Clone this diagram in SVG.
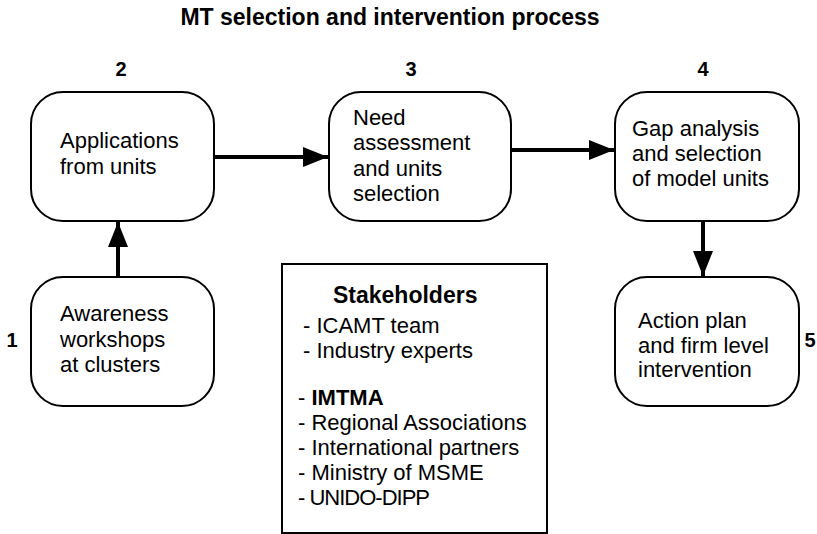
<svg xmlns="http://www.w3.org/2000/svg" width="817" height="534" viewBox="0 0 817 534">
  <style>
    text { font-family: "Liberation Sans", Arial, sans-serif; fill: #000; }
    .title { font-size: 23px; font-weight: bold; }
    .num { font-size: 20px; font-weight: bold; text-anchor: middle; }
    .lbl { font-size: 22px; }
    .head { font-size: 23px; font-weight: bold; }
    .step { fill: #fff; stroke: #000; stroke-width: 2; }
    .conn { stroke: #000; stroke-width: 4; fill: none; }
    .b { font-weight: bold; }
  </style>
  <defs>
    <marker id="arrow" markerUnits="userSpaceOnUse" markerWidth="26" markerHeight="22" refX="25" refY="10" orient="auto">
      <path d="M0,0 L25,10 L0,20 Z" fill="#000"/>
    </marker>
  </defs>

  <rect width="817" height="534" fill="#fff"/>

  <text class="title" x="390" y="25" text-anchor="middle">MT selection and intervention process</text>

  <!-- process steps -->
  <g id="step1">
    <rect class="step" x="31" y="277" width="183" height="129" rx="32" ry="32"/>
    <text class="num" x="12" y="347">1</text>
    <text class="lbl" x="60" y="321">Awareness</text>
    <text class="lbl" x="60" y="347">workshops</text>
    <text class="lbl" x="60" y="372">at clusters</text>
  </g>

  <g id="step2">
    <rect class="step" x="31" y="92" width="183" height="129" rx="32" ry="32"/>
    <text class="num" x="121" y="76">2</text>
    <text class="lbl" x="60" y="148">Applications</text>
    <text class="lbl" x="60" y="174">from units</text>
  </g>

  <g id="step3">
    <rect class="step" x="329" y="92" width="182" height="129" rx="32" ry="32"/>
    <text class="num" x="411" y="76">3</text>
    <text class="lbl" x="353" y="125">Need</text>
    <text class="lbl" x="353" y="150">assessment</text>
    <text class="lbl" x="353" y="176">and units</text>
    <text class="lbl" x="353" y="201">selection</text>
  </g>

  <g id="step4">
    <rect class="step" x="615" y="92" width="184" height="129" rx="32" ry="32"/>
    <text class="num" x="703" y="76">4</text>
    <text class="lbl" x="632" y="136">Gap analysis</text>
    <text class="lbl" x="632" y="161">and selection</text>
    <text class="lbl" x="632" y="186">of model units</text>
  </g>

  <g id="step5">
    <rect class="step" x="615" y="277" width="184" height="129" rx="32" ry="32"/>
    <text class="num" x="810" y="347">5</text>
    <text class="lbl" x="638" y="328">Action plan</text>
    <text class="lbl" x="638" y="353">and firm level</text>
    <text class="lbl" x="638" y="377">intervention</text>
  </g>

  <!-- stakeholder list -->
  <g id="stakeholders">
    <rect x="282" y="264" width="265" height="269" fill="#fff" stroke="#000" stroke-width="2"/>
    <text class="head" x="333" y="303">Stakeholders</text>
    <text class="lbl" x="303" y="333">- ICAMT team</text>
    <text class="lbl" x="303" y="358">- Industry experts</text>
    <text class="lbl" x="298" y="405">- <tspan class="b">IMTMA</tspan></text>
    <text class="lbl" x="298" y="430">- Regional Associations</text>
    <text class="lbl" x="298" y="455">- International partners</text>
    <text class="lbl" x="298" y="480">- Ministry of MSME</text>
    <text class="lbl" x="298" y="505" letter-spacing="-1">- UNIDO-DIPP</text>
  </g>

  <!-- connectors -->
  <g id="connectors">
    <line class="conn" x1="118" y1="277" x2="118" y2="222" marker-end="url(#arrow)"/>
    <line class="conn" x1="214" y1="157" x2="328" y2="157" marker-end="url(#arrow)"/>
    <line class="conn" x1="511" y1="150" x2="614" y2="150" marker-end="url(#arrow)"/>
    <line class="conn" x1="703" y1="221" x2="703" y2="276" marker-end="url(#arrow)"/>
  </g>
</svg>
